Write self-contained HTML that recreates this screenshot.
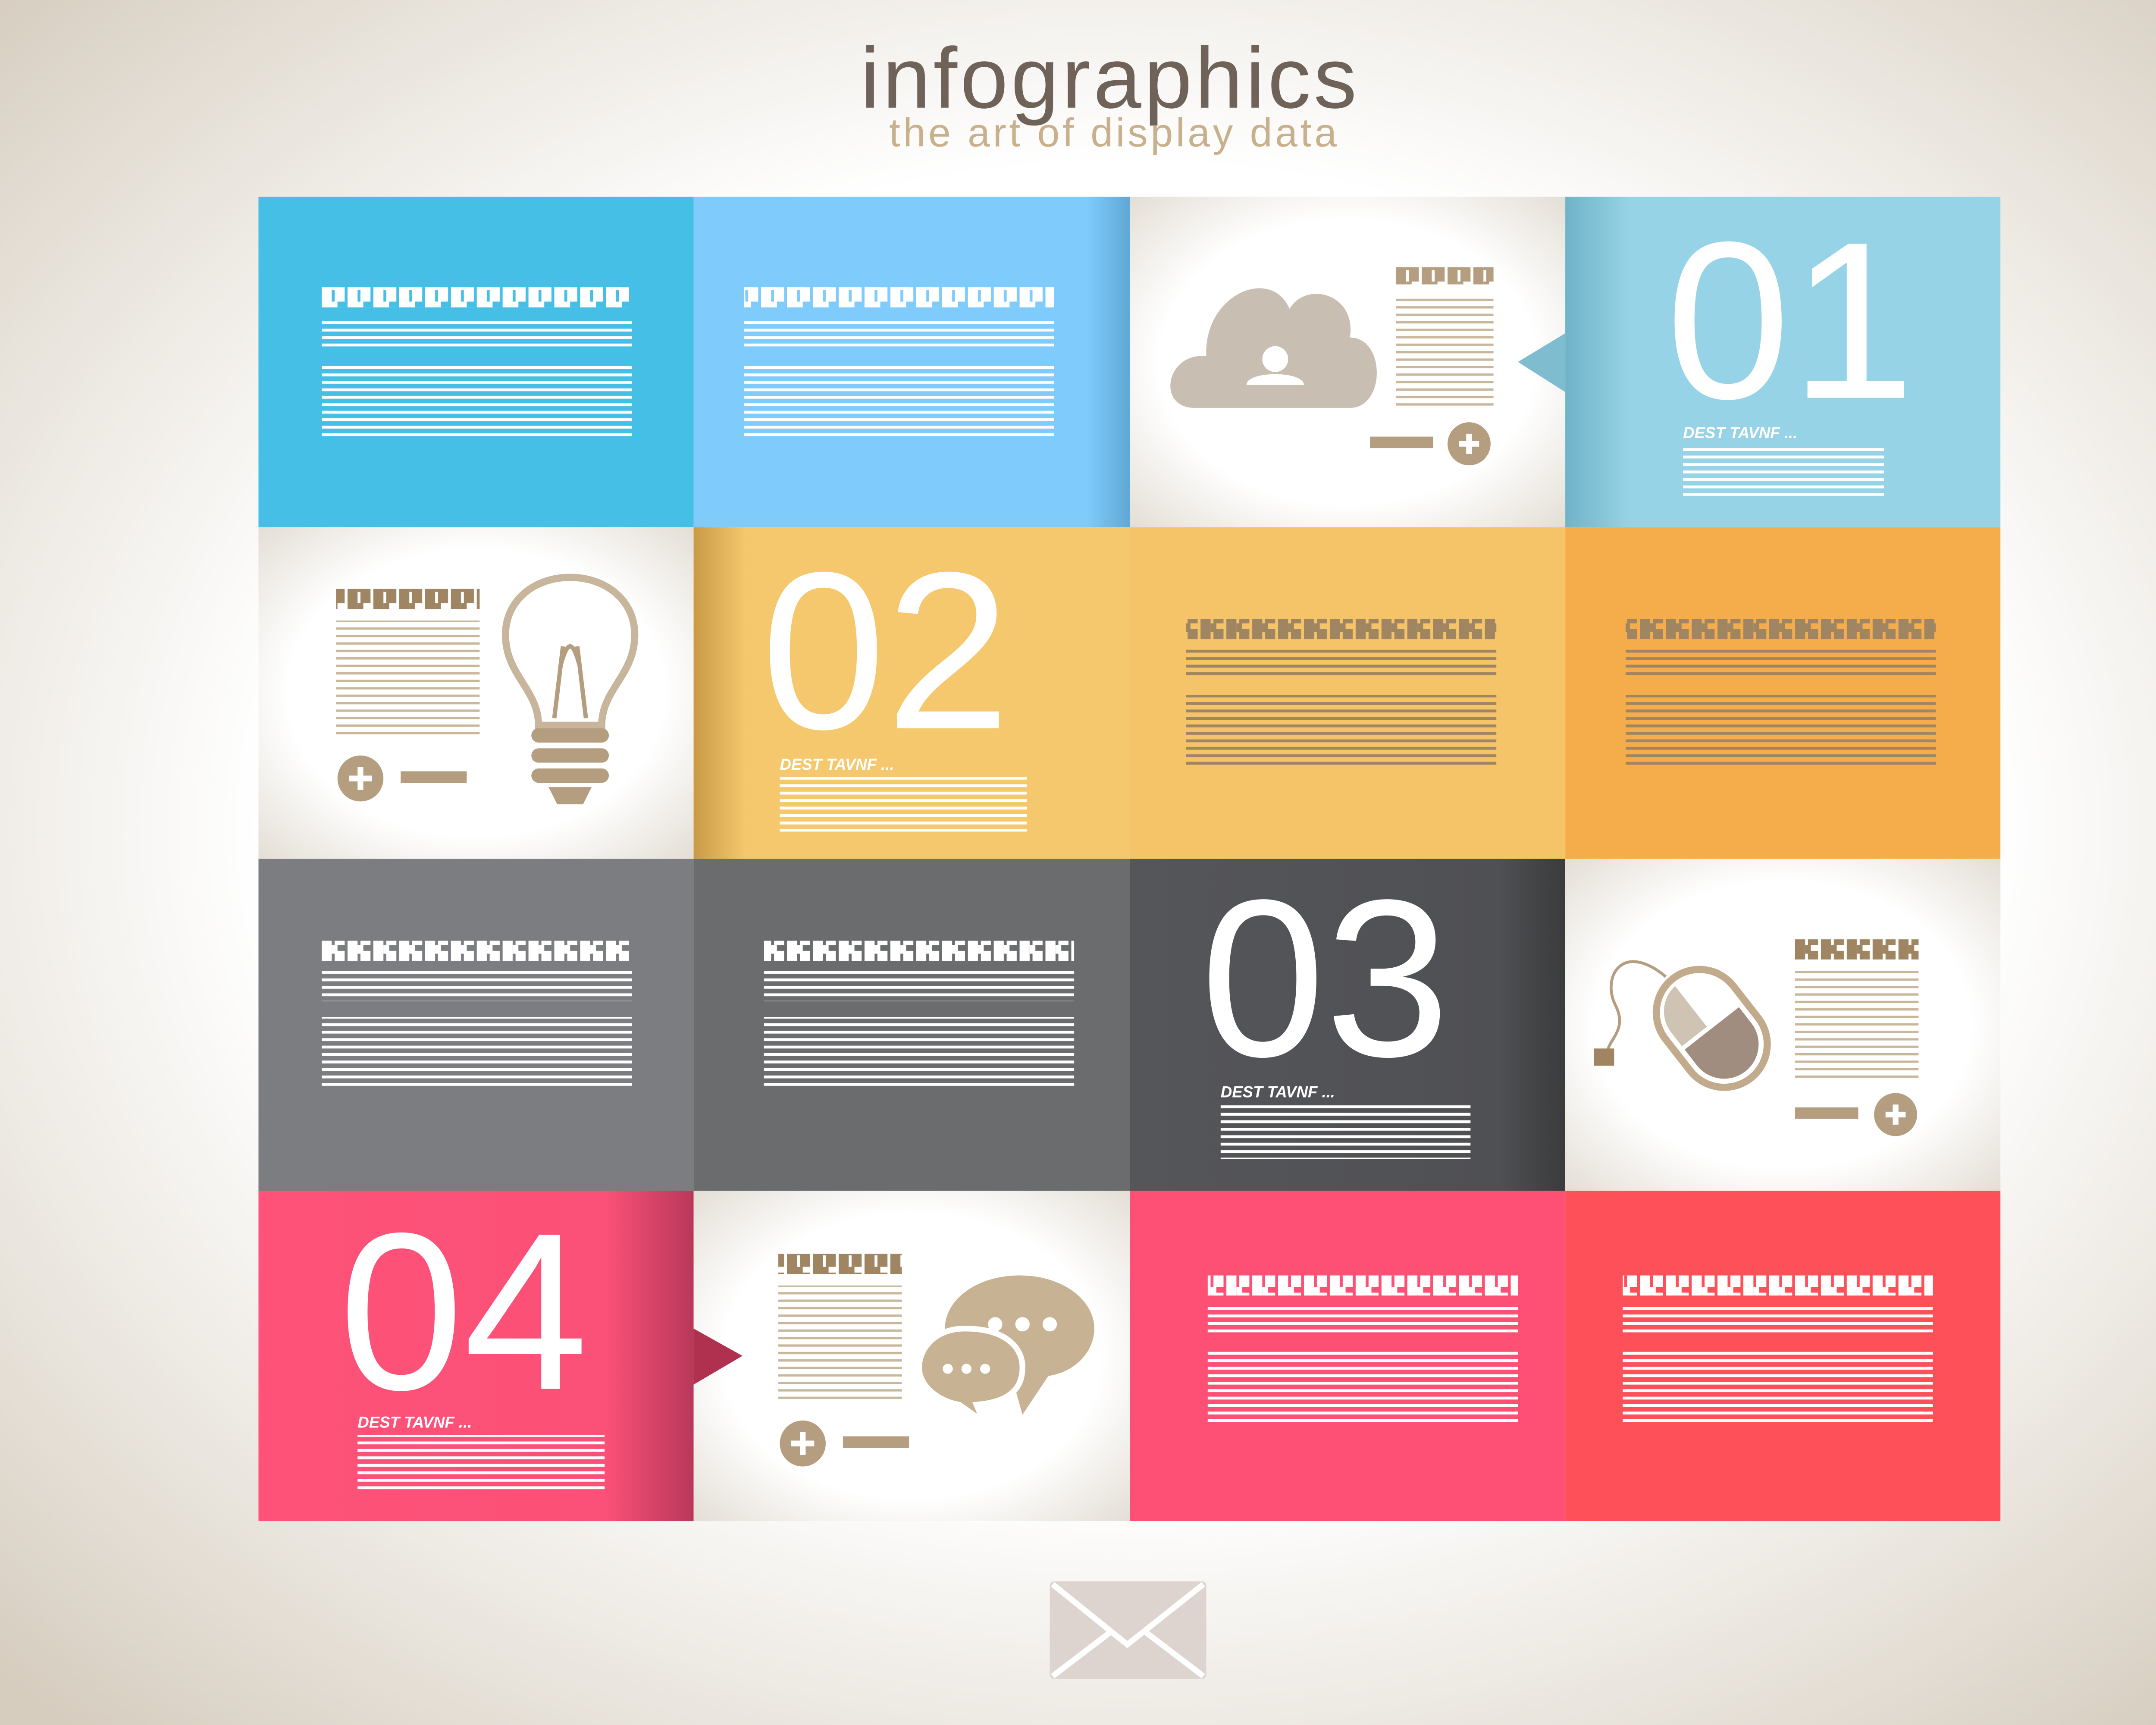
<!DOCTYPE html>
<html><head><meta charset="utf-8"><style>
html,body{margin:0;padding:0;width:5222px;height:4000px;overflow:hidden}
svg{display:block}
</style></head><body>
<svg width="5222" height="4000" viewBox="0 0 1568 1201" preserveAspectRatio="none" xmlns="http://www.w3.org/2000/svg">
<defs>
<radialGradient id="bg" cx="50%" cy="48%" r="70%">
<stop offset="0.55" stop-color="#ffffff"/><stop offset="1" stop-color="#d6cdbf"/></radialGradient>
<radialGradient id="cell" cx="50%" cy="50%" r="72%">
<stop offset="0.6" stop-color="#ffffff"/><stop offset="1" stop-color="#e2dcd3"/></radialGradient>
<pattern id="pw" width="10" height="5.2" patternUnits="userSpaceOnUse"><rect width="10" height="2" fill="#fff"/></pattern>
<pattern id="pb" width="10" height="5.2" patternUnits="userSpaceOnUse"><rect width="10" height="2" fill="#a08562"/></pattern>
<pattern id="pbl" width="10" height="5.2" patternUnits="userSpaceOnUse"><rect width="10" height="1.6" fill="#c9b79c"/></pattern>
<pattern id="hw" x="224" width="18" height="14" patternUnits="userSpaceOnUse"><rect width="7" height="14" fill="#fff"/><rect x="9" y="4" width="7" height="10" fill="#fff"/><rect x="7" y="0" width="4" height="6" fill="#fff"/></pattern>
<pattern id="hb" x="224" width="18" height="14" patternUnits="userSpaceOnUse"><rect width="7" height="14" fill="#a08562"/><rect x="9" y="4" width="7" height="10" fill="#a08562"/><rect x="7" y="0" width="4" height="6" fill="#a08562"/></pattern>
<pattern id="hbl" width="18" height="14" patternUnits="userSpaceOnUse"><rect width="7" height="14" fill="#b59d80"/><rect x="9" y="4" width="7" height="10" fill="#b59d80"/><rect x="7" y="0" width="4" height="6" fill="#b59d80"/></pattern>
<linearGradient id="sh2" x1="0" x2="1"><stop offset="0" stop-color="#c99a45"/><stop offset="0.12" stop-color="#f5c86e"/><stop offset="1" stop-color="#f5c86e"/></linearGradient>
<linearGradient id="sh3" x1="0" x2="1"><stop offset="0" stop-color="#55565a"/><stop offset="0.85" stop-color="#4f5053"/><stop offset="1" stop-color="#3a3b3d"/></linearGradient>
<linearGradient id="sh4" x1="0" x2="1"><stop offset="0" stop-color="#fe5278"/><stop offset="0.8" stop-color="#fb5077"/><stop offset="1" stop-color="#b8385a"/></linearGradient>
<linearGradient id="sh1" x1="0" x2="1"><stop offset="0" stop-color="#70b3c8"/><stop offset="0.15" stop-color="#97d3e6"/><stop offset="1" stop-color="#97d3e6"/></linearGradient>
<linearGradient id="sh12" x1="0" x2="1"><stop offset="0" stop-color="#7ecbfc"/><stop offset="0.9" stop-color="#7ecbfc"/><stop offset="1" stop-color="#5fa8d6"/></linearGradient>
</defs>
<rect width="1568" height="1201" fill="url(#bg)"/>
<text x="773" y="75" text-anchor="middle" font-family="Liberation Sans, sans-serif" font-size="60" fill="#6e6259" letter-spacing="2">infographics</text>
<text x="776" y="102" text-anchor="middle" font-family="Liberation Sans, sans-serif" font-size="28" fill="#c9b08c" letter-spacing="2">the art of display data</text>

<rect x="180" y="137" width="303" height="230" fill="#45bfe6"/>
<rect x="483" y="137" width="304" height="230" fill="url(#sh12)"/>
<rect x="787" y="137" width="303" height="230" fill="url(#cell)"/>
<rect x="1090" y="137" width="303" height="230" fill="url(#sh1)"/>
<rect x="180" y="367" width="303" height="231" fill="url(#cell)"/>
<rect x="483" y="367" width="304" height="231" fill="url(#sh2)"/>
<rect x="787" y="367" width="303" height="231" fill="#f5c468"/>
<rect x="1090" y="367" width="303" height="231" fill="#f5ad4b"/>
<rect x="180" y="598" width="303" height="231" fill="#7c7d80"/>
<rect x="483" y="598" width="304" height="231" fill="#6b6c6e"/>
<rect x="787" y="598" width="303" height="231" fill="url(#sh3)"/>
<rect x="1090" y="598" width="303" height="231" fill="url(#cell)"/>
<rect x="180" y="829" width="303" height="230" fill="url(#sh4)"/>
<rect x="483" y="829" width="304" height="230" fill="url(#cell)"/>
<rect x="787" y="829" width="303" height="230" fill="#fe5074"/>
<rect x="1090" y="829" width="303" height="230" fill="#fe5058"/>

<polygon points="1090,232 1057,252 1090,273" fill="#7fbcd0"/>
<polygon points="483,925 517,944 483,964" fill="#b0304f"/>

<rect x="224" y="200" width="216" height="14" fill="url(#hw)"/>
<rect x="224" y="221" width="216" height="21" fill="url(#pw)"/>
<rect x="224" y="253" width="216" height="51" fill="url(#pw)"/>
<rect x="518" y="200" width="216" height="14" fill="url(#hw)"/>
<rect x="518" y="221" width="216" height="21" fill="url(#pw)"/>
<rect x="518" y="253" width="216" height="51" fill="url(#pw)"/>

<rect x="826" y="431" width="216" height="14" fill="url(#hb)"/>
<rect x="826" y="452" width="216" height="21" fill="url(#pb)"/>
<rect x="826" y="484" width="216" height="51" fill="url(#pb)"/>
<rect x="1132" y="431" width="216" height="14" fill="url(#hb)"/>
<rect x="1132" y="452" width="216" height="21" fill="url(#pb)"/>
<rect x="1132" y="484" width="216" height="51" fill="url(#pb)"/>

<rect x="224" y="655" width="216" height="14" fill="url(#hw)"/>
<rect x="224" y="676" width="216" height="21" fill="url(#pw)"/>
<rect x="224" y="708" width="216" height="51" fill="url(#pw)"/>
<rect x="532" y="655" width="216" height="14" fill="url(#hw)"/>
<rect x="532" y="676" width="216" height="21" fill="url(#pw)"/>
<rect x="532" y="708" width="216" height="51" fill="url(#pw)"/>

<rect x="841" y="888" width="216" height="14" fill="url(#hw)"/>
<rect x="841" y="909" width="216" height="21" fill="url(#pw)"/>
<rect x="841" y="941" width="216" height="51" fill="url(#pw)"/>
<rect x="1130" y="888" width="216" height="14" fill="url(#hw)"/>
<rect x="1130" y="909" width="216" height="21" fill="url(#pw)"/>
<rect x="1130" y="941" width="216" height="51" fill="url(#pw)"/>

<g font-family="Liberation Sans, sans-serif" fill="#fff" font-size="156">
<text x="1160" y="277">01</text>
<text x="530" y="507">02</text>
<text x="836" y="735">03</text>
<text x="236" y="967">04</text>
</g>
<g font-family="Liberation Sans, sans-serif" fill="#fff" font-size="11" font-weight="bold" font-style="italic">
<text x="1172" y="305">DEST TAVNF  ...</text>
<text x="543" y="536">DEST TAVNF  ...</text>
<text x="850" y="764">DEST TAVNF  ...</text>
<text x="249" y="994">DEST TAVNF  ...</text>
</g>
<rect x="1172" y="310" width="140" height="38" fill="url(#pw)"/>
<rect x="543" y="541" width="172" height="38" fill="url(#pw)"/>
<rect x="850" y="769" width="174" height="38" fill="url(#pw)"/>
<rect x="249" y="999" width="172" height="38" fill="url(#pw)"/>

<path d="M832,284 C805,284 812,245 840,248 C838,205 885,185 898,215 C910,195 945,205 940,235 C965,235 965,284 940,284 Z" fill="#c9beb2"/>
<circle cx="888" cy="250" r="9" fill="#fff"/>
<path d="M868,268 C868,258 908,258 908,268 Z" fill="#fff"/>
<rect x="972" y="186" width="68" height="12" fill="url(#hbl)"/>
<rect x="972" y="206" width="68" height="80" fill="url(#pbl)"/>
<rect x="954" y="304" width="44" height="8" fill="#b59d80"/>
<circle cx="1023" cy="309" r="15" fill="#b59d80"/>
<path d="M1016,309 h14 M1023,302 v14" stroke="#fff" stroke-width="4"/>

<rect x="234" y="410" width="100" height="14" fill="url(#hb)"/>
<rect x="234" y="432" width="100" height="80" fill="url(#pbl)"/>
<circle cx="251" cy="542" r="16" fill="#b59d80"/>
<path d="M243,542 h16 M251,534 v16" stroke="#fff" stroke-width="4"/>
<rect x="279" y="537" width="46" height="8" fill="#b59d80"/>
<path d="M375,505 C375,480 352,470 352,442 C352,418 372,402 397,402 C422,402 442,418 442,442 C442,470 419,480 419,505 Z" fill="#fff" stroke="#c7b59c" stroke-width="5"/>
<path d="M386,500 L392,450 M408,500 L402,450 M390,465 C395,445 399,445 404,465" stroke="#b59d80" stroke-width="3" fill="none"/>
<g fill="#b59d80"><rect x="370" y="507" width="54" height="10" rx="5"/><rect x="370" y="521" width="54" height="10" rx="5"/><rect x="370" y="535" width="54" height="10" rx="5"/><path d="M382,548 h30 l-6,12 h-18z"/></g>

<rect x="1250" y="654" width="86" height="14" fill="url(#hb)"/>
<rect x="1250" y="676" width="86" height="78" fill="url(#pbl)"/>
<rect x="1250" y="771" width="44" height="8" fill="#b59d80"/>
<circle cx="1320" cy="776" r="15" fill="#b59d80"/>
<path d="M1313,776 h14 M1320,769 v14" stroke="#fff" stroke-width="4"/>
<path d="M1160,680 C1130,655 1115,680 1125,700 C1135,720 1115,725 1120,738" stroke="#b59d80" stroke-width="2" fill="none"/>
<rect x="1110" y="730" width="14" height="12" fill="#a08562"/>
<g transform="rotate(-38 1192 716)">
<rect x="1162" y="672" width="60" height="88" rx="30" fill="#fff" stroke="#c2ab8c" stroke-width="5"/>
<path d="M1168,716 h48 v14 a24,24 0 0 1 -48,0z" fill="#a08d80"/>
<path d="M1168,713 v-12 a24,24 0 0 1 22,-24 v36z" fill="#cfc3b3"/>
</g>

<rect x="542" y="873" width="86" height="14" fill="url(#hb)"/>
<rect x="542" y="895" width="86" height="82" fill="url(#pbl)"/>
<circle cx="559" cy="1005" r="16" fill="#b59d80"/>
<path d="M551,1005 h16 M559,997 v16" stroke="#fff" stroke-width="4"/>
<rect x="587" y="1000" width="46" height="8" fill="#b59d80"/>
<path d="M710,888 C680,888 658,905 658,925 C658,945 680,958 705,960 L712,985 L730,958 C750,955 762,940 762,925 C762,905 740,888 710,888 Z" fill="#c7b293"/>
<path d="M672,925 C650,925 640,940 640,952 C640,966 655,976 668,978 L685,990 L680,978 C705,976 712,965 712,952 C712,938 700,925 672,925 Z" fill="#c7b293" stroke="#fff" stroke-width="4"/>
<g fill="#fff"><circle cx="693" cy="922" r="5"/><circle cx="712" cy="922" r="5"/><circle cx="731" cy="922" r="5"/><circle cx="660" cy="953" r="3.5"/><circle cx="673" cy="953" r="3.5"/><circle cx="686" cy="953" r="3.5"/></g>

<rect x="731" y="1101" width="109" height="68" fill="#ddd4cf" rx="3"/>
<path d="M733,1103 L785,1145 L838,1103 M733,1167 L775,1135 M838,1167 L796,1135" stroke="#fff" stroke-width="4" fill="none"/>
</svg>
</body></html>
